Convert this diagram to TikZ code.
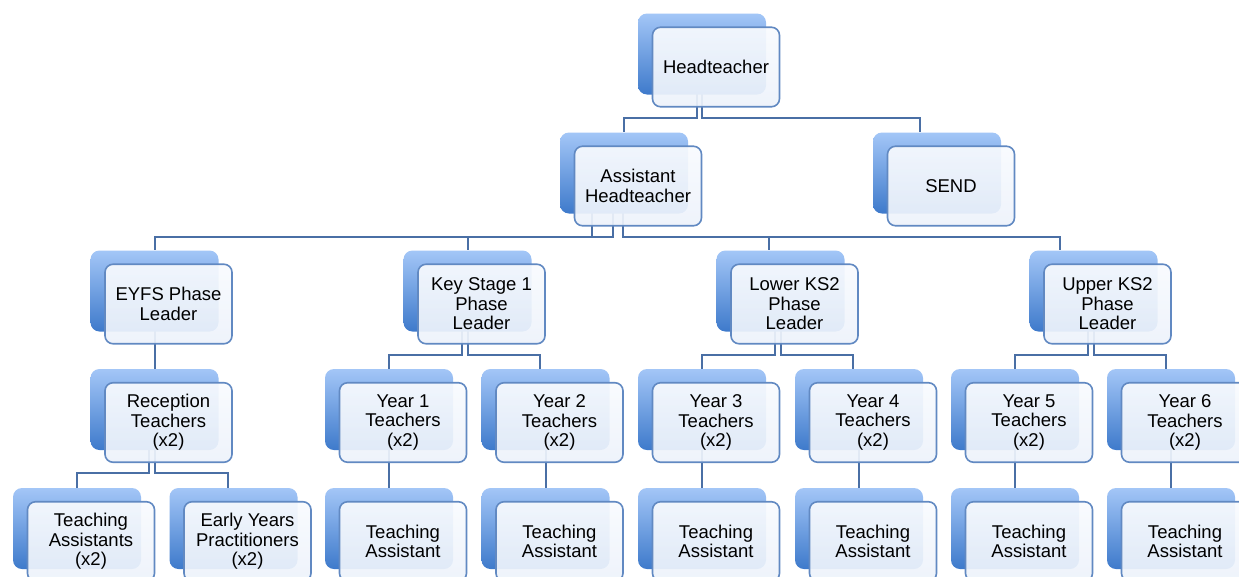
\documentclass[tikz,border=0pt]{standalone}
\usepackage{fontspec}
\setmainfont{Liberation Sans}
\usetikzlibrary{backgrounds}
\definecolor{connc}{HTML}{4A6FA5}
\definecolor{backtop}{HTML}{A3C6F7}
\definecolor{backbot}{HTML}{3E7ACB}
\definecolor{frontline}{HTML}{6189C2}
\definecolor{fronttop}{HTML}{F9FBFE}
\definecolor{frontbot}{HTML}{EDF3FB}
\tikzset{
  backbox/.style={rectangle, rounded corners=9pt, minimum width=128pt, minimum height=81pt,
    inner sep=0pt, draw=none, top color=backtop, bottom color=backbot},
  frontbox/.style={rectangle, rounded corners=8pt, minimum width=127pt, minimum height=79.5pt,
    inner sep=1pt, draw=frontline, line width=1.6pt, top color=fronttop, bottom color=frontbot,
    fill opacity=0.92, draw opacity=1, text opacity=1, align=center, text=black,
    font=\fontsize{18.5}{19.5}\selectfont},
  conn/.style={draw=connc, line width=2pt},
}
\newcommand\orgnode[4]{%
  \node[backbox] (#1b) at ({#2-14},{#3-13}) {};
  \node[frontbox] (#1) at (#2,#3) {#4};}
\begin{document}
\begin{tikzpicture}[x=1pt,y=-1pt]
\useasboundingbox (0,0) rectangle (1239,576);
\clip (0,0) rectangle (1239,576);
% level 1-2
\orgnode{h}{716}{67}{Headteacher}
\orgnode{a}{638}{186}{Assistant\\Headteacher}
\orgnode{s}{951}{186}{SEND}
% level 3
\orgnode{e}{168.5}{304}{EYFS Phase\\Leader}
\orgnode{k}{481.5}{304}{Key Stage 1\\Phase\\Leader}
\orgnode{l}{794.5}{304}{Lower KS2\\Phase\\Leader}
\orgnode{u}{1107.5}{304}{Upper KS2\\Phase\\Leader}
% level 4
\orgnode{r}{168.5}{422.5}{Reception\\Teachers\\(x2)}
\orgnode{yA}{403}{422.5}{Year 1\\Teachers\\(x2)}
\orgnode{yB}{559.5}{422.5}{Year 2\\Teachers\\(x2)}
\orgnode{yC}{716}{422.5}{Year 3\\Teachers\\(x2)}
\orgnode{yD}{873}{422.5}{Year 4\\Teachers\\(x2)}
\orgnode{yE}{1029}{422.5}{Year 5\\Teachers\\(x2)}
\orgnode{yF}{1185}{422.5}{Year 6\\Teachers\\(x2)}
% level 5
\orgnode{ta}{91}{541.5}{Teaching\\Assistants\\(x2)}
\orgnode{ep}{247.5}{541.5}{Early Years\\Practitioners\\(x2)}
\orgnode{tA}{403}{541.5}{Teaching\\Assistant}
\orgnode{tB}{559.5}{541.5}{Teaching\\Assistant}
\orgnode{tC}{716}{541.5}{Teaching\\Assistant}
\orgnode{tD}{873}{541.5}{Teaching\\Assistant}
\orgnode{tE}{1029}{541.5}{Teaching\\Assistant}
\orgnode{tF}{1185}{541.5}{Teaching\\Assistant}
\begin{scope}[on background layer]
\fill[white] (0,0) rectangle (1239,576);
\draw[conn] ([xshift=-5pt]hb.center) -- ++(0,64) -| (ab.north);
\draw[conn] (hb.center) -- ++(0,64) -| ([xshift=-17pt]sb.north);
\draw[conn] ([xshift=-32pt]ab.center) -- ++(0,64) -| (eb.north);
\draw[conn] ([xshift=-11pt]ab.center) -- ++(0,64) -| (kb.north);
\draw[conn] ([xshift=-1pt]ab.center) -- ++(0,64) -| ([xshift=-11.5pt]lb.north);
\draw[conn] ([xshift=-1pt]ab.center) -- ++(0,64) -| ([xshift=-33.5pt]ub.north);
\draw[conn] (eb.center) -- (rb.north);
\draw[conn] ([xshift=-5.5pt]kb.center) -- ++(0,64) -| (yAb.north);
\draw[conn] (kb.center) -- ++(0,64) -| ([xshift=-5.5pt]yBb.north);
\draw[conn] ([xshift=-5.5pt]lb.center) -- ++(0,64) -| (yCb.north);
\draw[conn] (lb.center) -- ++(0,64) -| ([xshift=-6pt]yDb.north);
\draw[conn] ([xshift=-5.5pt]ub.center) -- ++(0,64) -| (yEb.north);
\draw[conn] (ub.center) -- ++(0,64) -| ([xshift=-5pt]yFb.north);
\draw[conn] ([xshift=-5.5pt]rb.center) -- ++(0,63.5) -| (tab.north);
\draw[conn] (rb.center) -- ++(0,63.5) -| ([xshift=-5.5pt]epb.north);
\draw[conn] (yAb.center) -- (tAb.north);
\draw[conn] (yBb.center) -- (tBb.north);
\draw[conn] (yCb.center) -- (tCb.north);
\draw[conn] (yDb.center) -- (tDb.north);
\draw[conn] (yEb.center) -- (tEb.north);
\draw[conn] (yFb.center) -- (tFb.north);
\end{scope}
\end{tikzpicture}
\end{document}
